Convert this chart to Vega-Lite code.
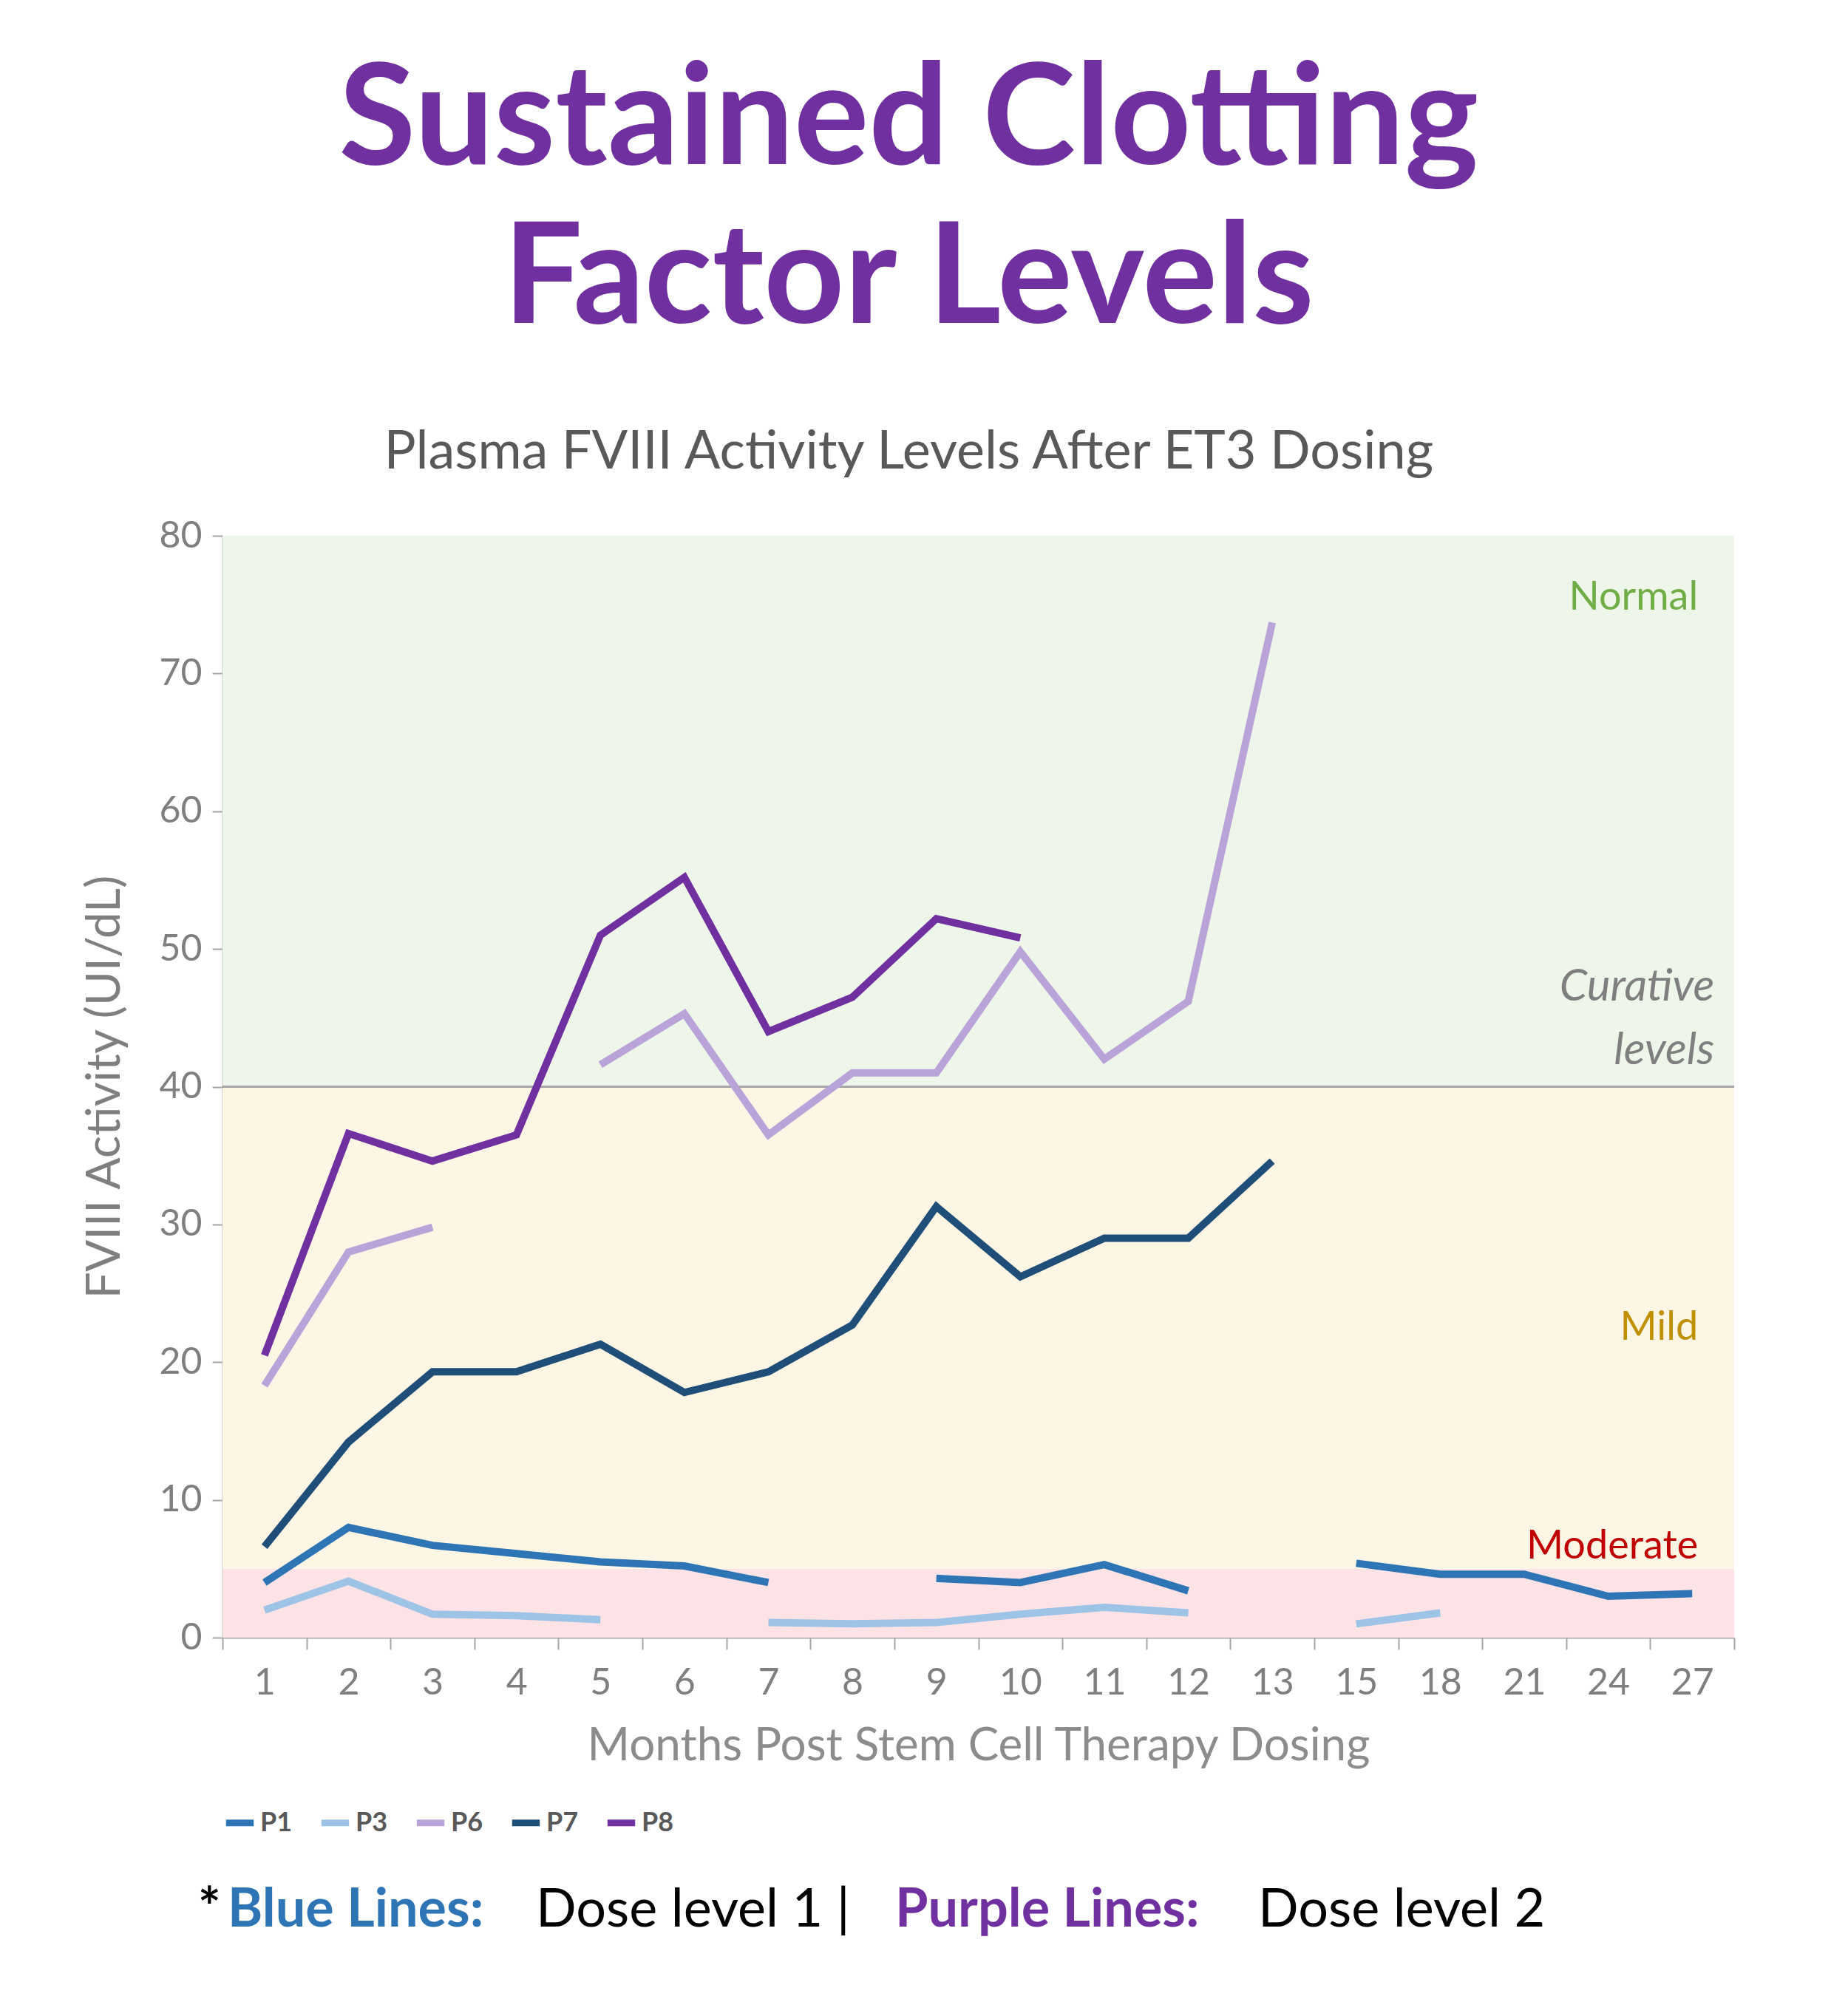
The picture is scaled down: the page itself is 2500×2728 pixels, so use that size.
{
"$schema":"https://vega.github.io/schema/vega-lite/v6.json",
"background":"white",
"padding":{"left":110,"top":70,"right":20,"bottom":10},
"config":{"font":"Lato","view":{"stroke":null}},
"title":{"text":["Sustained Clotting","Factor Levels"],"subtitle":"Plasma FVIII Activity Levels After ET3 Dosing","fontSize":190,"fontWeight":"bold","color":"#7030a0","lineHeight":215,"subtitleFontSize":72,"subtitleColor":"#595959","subtitlePadding":100,"font":"Lato","subtitleFont":"Lato","anchor":"middle","offset":50},
"spacing":60,
"vconcat":[
{
"width":2045,"height":1491,
"resolve":{"scale":{"color":"independent","fill":"independent"}},
"layer":[
{"data":{"values":[{"lo":0,"hi":5,"c":"#fde3e6"},{"lo":5,"hi":40,"c":"#fdf6e4"},{"lo":40,"hi":80,"c":"#eef6ea"}]},
 "mark":{"type":"rect"},
 "encoding":{"y":{"field":"lo","type":"quantitative","scale":{"domain":[0,80]}},"y2":{"field":"hi"},"fill":{"field":"c","type":"nominal","scale":null,"legend":null}}},
{"data":{"values":[{"v":40}]},"mark":{"type":"rule","color":"#a6a6a6","strokeWidth":3},"encoding":{"y":{"field":"v","type":"quantitative"}}},
{"data":{"values":[
{"p":"P1","s":"a","m":"1","v":4},{"p":"P1","s":"a","m":"2","v":8},{"p":"P1","s":"a","m":"3","v":6.7},{"p":"P1","s":"a","m":"4","v":6.1},{"p":"P1","s":"a","m":"5","v":5.5},{"p":"P1","s":"a","m":"6","v":5.2},{"p":"P1","s":"a","m":"7","v":4},
{"p":"P1","s":"b","m":"9","v":4.3},{"p":"P1","s":"b","m":"10","v":4},{"p":"P1","s":"b","m":"11","v":5.3},{"p":"P1","s":"b","m":"12","v":3.4},
{"p":"P1","s":"c","m":"15","v":5.4},{"p":"P1","s":"c","m":"18","v":4.6},{"p":"P1","s":"c","m":"21","v":4.6},{"p":"P1","s":"c","m":"24","v":3},{"p":"P1","s":"c","m":"27","v":3.2},
{"p":"P3","s":"a","m":"1","v":2},{"p":"P3","s":"a","m":"2","v":4.1},{"p":"P3","s":"a","m":"3","v":1.7},{"p":"P3","s":"a","m":"4","v":1.6},{"p":"P3","s":"a","m":"5","v":1.3},
{"p":"P3","s":"b","m":"7","v":1.1},{"p":"P3","s":"b","m":"8","v":1},{"p":"P3","s":"b","m":"9","v":1.1},{"p":"P3","s":"b","m":"10","v":1.7},{"p":"P3","s":"b","m":"11","v":2.2},{"p":"P3","s":"b","m":"12","v":1.8},
{"p":"P3","s":"c","m":"15","v":1},{"p":"P3","s":"c","m":"18","v":1.8},
{"p":"P6","s":"a","m":"1","v":18.3},{"p":"P6","s":"a","m":"2","v":28},{"p":"P6","s":"a","m":"3","v":29.8},
{"p":"P6","s":"b","m":"5","v":41.6},{"p":"P6","s":"b","m":"6","v":45.3},{"p":"P6","s":"b","m":"7","v":36.5},{"p":"P6","s":"b","m":"8","v":41},{"p":"P6","s":"b","m":"9","v":41},{"p":"P6","s":"b","m":"10","v":49.8},{"p":"P6","s":"b","m":"11","v":42},{"p":"P6","s":"b","m":"12","v":46.2},{"p":"P6","s":"b","m":"13","v":73.7},
{"p":"P7","s":"a","m":"1","v":6.6},{"p":"P7","s":"a","m":"2","v":14.2},{"p":"P7","s":"a","m":"3","v":19.3},{"p":"P7","s":"a","m":"4","v":19.3},{"p":"P7","s":"a","m":"5","v":21.3},{"p":"P7","s":"a","m":"6","v":17.8},{"p":"P7","s":"a","m":"7","v":19.3},{"p":"P7","s":"a","m":"8","v":22.7},{"p":"P7","s":"a","m":"9","v":31.3},{"p":"P7","s":"a","m":"10","v":26.2},{"p":"P7","s":"a","m":"11","v":29},{"p":"P7","s":"a","m":"12","v":29},{"p":"P7","s":"a","m":"13","v":34.6},
{"p":"P8","s":"a","m":"1","v":20.5},{"p":"P8","s":"a","m":"2","v":36.6},{"p":"P8","s":"a","m":"3","v":34.6},{"p":"P8","s":"a","m":"4","v":36.5},{"p":"P8","s":"a","m":"5","v":51},{"p":"P8","s":"a","m":"6","v":55.2},{"p":"P8","s":"a","m":"7","v":44},{"p":"P8","s":"a","m":"8","v":46.5},{"p":"P8","s":"a","m":"9","v":52.2},{"p":"P8","s":"a","m":"10","v":50.8}
]},
 "mark":{"type":"line","strokeWidth":10,"strokeJoin":"miter"},
 "encoding":{
  "x":{"field":"m","type":"ordinal","sort":["1","2","3","4","5","6","7","8","9","10","11","12","13","15","18","21","24","27"],"scale":{"domain":["1","2","3","4","5","6","7","8","9","10","11","12","13","15","18","21","24","27"],"paddingInner":0,"paddingOuter":0},
   "axis":{"title":"Months Post Stem Cell Therapy Dosing","titleFontSize":62,"titleFontWeight":"normal","titleColor":"#8c8c8c","titlePadding":30,"labelFontSize":50,"labelColor":"#7f7f7f","labelAngle":0,"labelPadding":20,"tickBand":"extent","tickSize":16,"tickColor":"#a6a6a6","tickWidth":2,"domainColor":"#a6a6a6","domainWidth":2}},
  "y":{"field":"v","type":"quantitative","scale":{"domain":[0,80]},
   "axis":{"title":"FVIII Activity (UI/dL)","titleFontSize":64,"titleFontWeight":"normal","titleColor":"#7f7f7f","titlePadding":40,"labelFontSize":50,"labelColor":"#7f7f7f","labelPadding":14,"tickCount":8,"grid":false,"tickSize":14,"tickColor":"#a6a6a6","tickWidth":2,"domainColor":"#a6a6a6","domainWidth":2}},
  "detail":{"field":"s"},
  "color":{"field":"p","type":"nominal","scale":{"domain":["P1","P3","P6","P7","P8"],"range":["#2e75b6","#9dc3e6","#b9a3d9","#1f4e79","#7030a0"]},
   "legend":{"orient":"bottom","direction":"horizontal","title":null,"symbolType":"stroke","symbolStrokeWidth":9,"symbolSize":1400,"labelFontSize":36,"labelColor":"#595959","labelFontWeight":"bold","columnPadding":20,"offset":50}}
 }},
{"data":{"values":[
{"t":"Normal","m":"27","v":75.5,"c":"#70ad47"},
{"t":"Mild","m":"27","v":22.5,"c":"#bf9000"},
{"t":"Moderate","m":"27","v":6.6,"c":"#c00000"}]},
 "mark":{"type":"text","align":"right","baseline":"middle","fontSize":54,"dx":8},
 "encoding":{"x":{"field":"m","type":"ordinal","sort":["1","2","3","4","5","6","7","8","9","10","11","12","13","15","18","21","24","27"]},"y":{"field":"v","type":"quantitative"},"text":{"field":"t"},"fill":{"field":"c","type":"nominal","scale":null,"legend":null}}},
{"data":{"values":[
{"t":"Curative","m":"27","v":47.2},
{"t":"levels","m":"27","v":42.6}]},
 "mark":{"type":"text","align":"right","baseline":"middle","fontSize":60,"fontStyle":"italic","dx":30,"color":"#7f7f7f"},
 "encoding":{"x":{"field":"m","type":"ordinal","sort":["1","2","3","4","5","6","7","8","9","10","11","12","13","15","18","21","24","27"]},"y":{"field":"v","type":"quantitative"},"text":{"field":"t"}}}
]
},
{
"width":2045,"height":80,
"layer":[
{"data":{"values":[
{"t":"*","c":"#000000","px":-33},
{"t":"Blue Lines:","c":"#2e75b6","px":7},
{"t":"Purple Lines:","c":"#7030a0","px":910}]},
"mark":{"type":"text","align":"left","baseline":"middle","fontSize":72,"fontWeight":"bold"},
"encoding":{"x":{"field":"px","type":"quantitative","scale":null},"y":{"value":40},"text":{"field":"t"},"fill":{"field":"c","type":"nominal","scale":null,"legend":null}}},
{"data":{"values":[
{"t":"Dose level 1 |","px":424},
{"t":"Dose level 2","px":1401}]},
"mark":{"type":"text","align":"left","baseline":"middle","fontSize":72,"color":"#000000"},
"encoding":{"x":{"field":"px","type":"quantitative","scale":null},"y":{"value":40},"text":{"field":"t"}}}
]
}
]
}
